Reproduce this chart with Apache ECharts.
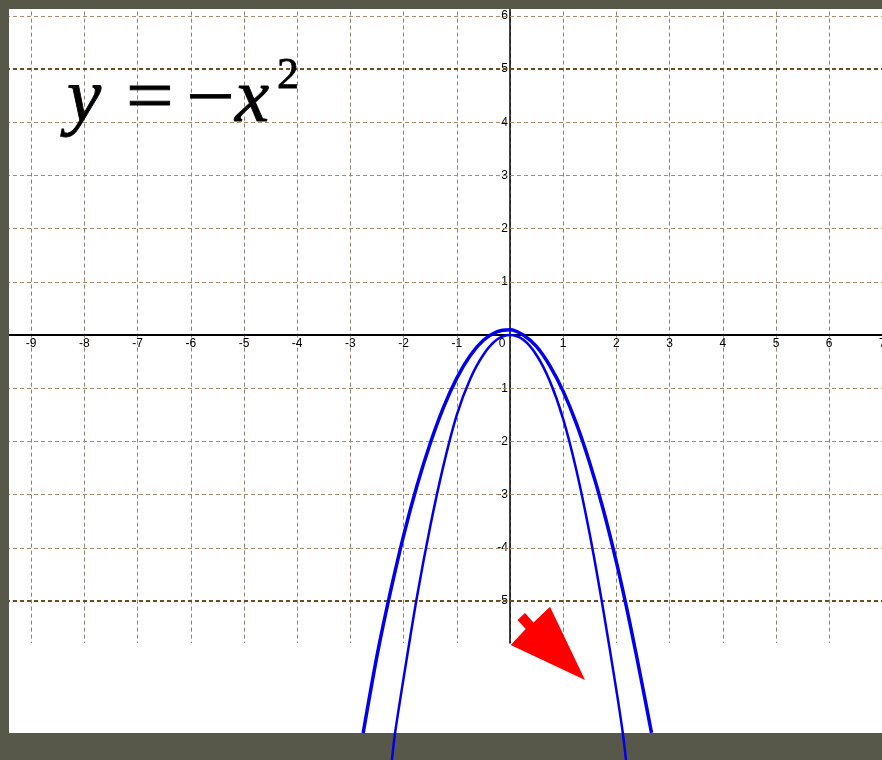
<!DOCTYPE html>
<html>
<head>
<meta charset="utf-8">
<script src="https://cdn.jsdelivr.net/npm/echarts@6/dist/echarts.min.js"></script>
<style>
html, body { margin: 0; padding: 0; background: #58584a; }
#container { width: 882px; height: 760px; }
</style>
</head>
<body>
<div id="container"></div>
<script>
var dom = document.getElementById("container");
var myChart = echarts.init(dom);
var option;

// wide parabola (thick)
var wideX = [-2.76, -2.5, -2.25, -2.0, -1.75, -1.5, -1.25, -1.0, -0.75, -0.5, -0.25, 0, 0.25, 0.5, 0.75, 1.0, 1.25, 1.5, 1.75, 2.0, 2.25, 2.5, 2.66];
var wideY = [-7.48, -6.03, -4.84, -3.77, -2.84, -2.04, -1.36, -0.81, -0.39, -0.1, 0.06, 0.1, 0.0, -0.22, -0.58, -1.06, -1.67, -2.41, -3.27, -4.27, -5.4, -6.65, -7.48];

// narrow parabola (thin), runs over the bottom frame
var narrowX = [-2.22, -2.16, -2.0, -1.75, -1.5, -1.25, -1.0, -0.75, -0.5, -0.25, 0, 0.25, 0.5, 0.75, 1.0, 1.25, 1.5, 1.75, 2.0, 2.12, 2.18];
var narrowY = [-7.99, -7.48, -6.45, -4.93, -3.6, -2.45, -1.5, -0.83, -0.37, -0.09, 0, -0.09, -0.38, -0.87, -1.58, -2.55, -3.75, -5.15, -6.68, -7.48, -7.99];

// tick labels
var xLabelTicks = [-9, -8, -7, -6, -5, -4, -3, -2, -1, 0, 1, 2, 3, 4, 5, 6, 7];
var yLabelTicks = [-5, -4, -3, -2, -1, 1, 2, 3, 4, 5, 6];
var hGridTicks = [-5, -4, -3, -2, -1, 1, 2, 3, 4, 5, 6];

// red arrow outline, in axis units
var arrowX = [0.013, 0.295, 0.141, 0.282, 0.442, 0.752, 1.41];
var arrowY = [-5.827, -5.526, -5.357, -5.226, -5.404, -5.107, -6.485];

var border = "#58584a";
var labelFont = "Liberation Sans";
var mathFont = '"Liberation Serif"';

function zip(xs, ys) {
    return xs.map(function (x, i) {
        return [x, ys[i]];
    });
}

function mathText(id, text, x, y, size, italic, sx) {
    return {
        type: "text",
        id: id,
        z: 10,
        silent: true,
        x: x,
        y: y,
        scaleX: sx || 1,
        style: {
            text: text,
            font: (italic ? "italic " : "") + size + "px " + mathFont,
            fill: "#000",
            stroke: "#000",
            lineWidth: 0.8,
            align: "left",
            verticalAlign: "middle",
        },
    };
}

var hidden = {
    axisLine: { show: false },
    axisTick: { show: false },
    axisLabel: { show: false },
    splitLine: { show: false },
};

option = {
    backgroundColor: border,
    animation: false,
    grid: [
        // plot area, x -10..7, y -8..7
        { left: -22, right: -0.4, top: -37.4, bottom: -0.6, outerBoundsMode: "none" },
        // vertical grid lines and y axis line, stop at y = -5.79
        { left: -22, right: -0.4, top: -37.4, bottom: 117, outerBoundsMode: "none" },
        // x axis line + labels, bottom edge sits on y = 0
        { left: -22, right: -0.4, top: -37.4, bottom: 425, outerBoundsMode: "none" },
        // y labels, left edge sits on x = 0
        { left: 510, right: -0.4, top: -37.4, bottom: -0.6, outerBoundsMode: "none" },
    ],
    xAxis: [
        Object.assign({ gridIndex: 0, type: "value", min: -10, max: 7 }, hidden),
        {
            gridIndex: 1,
            type: "value",
            min: -10,
            max: 7,
            interval: 1,
            axisLine: { show: false },
            axisTick: { show: false },
            axisLabel: { show: false },
            splitLine: {
                show: true,
                lineStyle: { color: "#8f8070", width: 1, type: [4, 3] },
            },
        },
        {
            gridIndex: 2,
            type: "value",
            position: "bottom",
            min: -10,
            max: 7,
            interval: 1,
            axisLine: { onZero: false, lineStyle: { color: "#000", width: 2 } },
            axisTick: { show: false },
            splitLine: { show: false },
            axisLabel: {
                margin: 3,
                color: "#000",
                fontFamily: labelFont,
                fontSize: 12,
                formatter: function (v) {
                    if (v === 0) return "{o|0}";
                    return xLabelTicks.indexOf(v) >= 0 ? String(v) : "";
                },
                rich: {
                    o: { padding: [0, 16, 0, 0], color: "#000", fontFamily: labelFont, fontSize: 12 },
                },
            },
        },
        Object.assign({ gridIndex: 3, type: "value", min: 0, max: 7 }, hidden),
    ],
    yAxis: [
        Object.assign({ gridIndex: 0, type: "value", min: -8, max: 7 }, hidden),
        {
            gridIndex: 1,
            type: "value",
            min: -5.79,
            max: 7,
            axisLine: { show: true, onZero: true, lineStyle: { color: "#000", width: 1.5 } },
            axisTick: { show: false },
            axisLabel: { show: false },
            splitLine: { show: false },
        },
        Object.assign({ gridIndex: 2, type: "value", min: 0, max: 7 }, hidden),
        {
            gridIndex: 3,
            type: "value",
            position: "left",
            min: -8,
            max: 7,
            interval: 1,
            axisLine: { show: false, onZero: false },
            axisTick: { show: false },
            splitLine: { show: false },
            axisLabel: {
                margin: 2,
                color: "#000",
                fontFamily: labelFont,
                fontSize: 12,
                formatter: function (v) {
                    return yLabelTicks.indexOf(v) >= 0 ? String(v) : "";
                },
            },
        },
    ],
    graphic: {
        elements: [
            {
                type: "rect",
                id: "paper",
                z: -10,
                silent: true,
                shape: { x: 9, y: 9, width: 873, height: 724 },
                style: { fill: "#ffffff" },
            },
            {
                type: "rect",
                id: "borderLeft",
                z: 100,
                silent: true,
                shape: { x: 0, y: 0, width: 9, height: 760 },
                style: { fill: border },
            },
            {
                type: "rect",
                id: "borderTop",
                z: 100,
                silent: true,
                shape: { x: 0, y: 0, width: 882, height: 9 },
                style: { fill: border },
            },
            mathText("t1", "y", 67, 101, 77, true),
            mathText("t2", "=", 126, 101, 77, false, 1.1),
            mathText("t3", "\u2212", 186, 102, 77, false, 1.12),
            mathText("t4", "x", 235, 101, 77, true),
            mathText("t5", "2", 277, 76, 44, false),
        ],
    },
    series: [
        {
            name: "wide",
            type: "line",
            xAxisIndex: 0,
            yAxisIndex: 0,
            z: 3,
            smooth: 0.3,
            showSymbol: false,
            lineStyle: { color: "#0000ee", width: 3.5 },
            data: zip(wideX, wideY),
            markLine: {
                z: 1,
                silent: true,
                symbol: "none",
                label: { show: false },
                emphasis: { disabled: true },
                data: hGridTicks.map(function (v) {
                    var major = Math.abs(v) === 5;
                    return {
                        yAxis: v,
                        lineStyle: {
                            color: major ? "#6e4c22" : "#a48c6c",
                            width: major ? 2 : 1,
                            type: [4, 3],
                        },
                    };
                }),
            },
        },
        {
            name: "narrow",
            type: "line",
            xAxisIndex: 0,
            yAxisIndex: 0,
            z: 3,
            smooth: 0.3,
            showSymbol: false,
            lineStyle: { color: "#0000ee", width: 2.5 },
            data: zip(narrowX, narrowY),
        },
    ],
};

if (option && typeof option === "object") {
    myChart.setOption(option);
}

var arrowPx = arrowX.map(function (x, i) {
    return myChart.convertToPixel({ gridIndex: 0 }, [x, arrowY[i]]);
});
myChart.setOption({
    graphic: {
        elements: [
            {
                type: "polygon",
                id: "arrow",
                z: 20,
                silent: true,
                shape: { points: arrowPx },
                style: { fill: "#ff0000" },
            },
        ],
    },
});
</script>
</body>
</html>
